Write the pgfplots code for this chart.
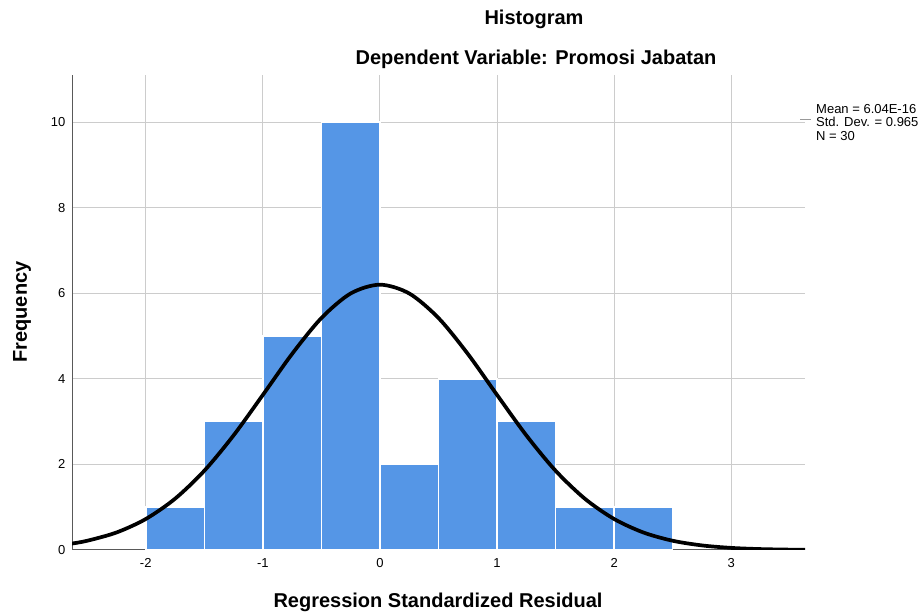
\documentclass[border=0pt]{standalone}
\usepackage{pgfplots}
\pgfplotsset{compat=1.18}
\usepackage{fontspec}
\setmainfont{Liberation Sans}
\definecolor{barblue}{HTML}{5596E6}
\definecolor{gridgray}{HTML}{CCCCCC}
\begin{document}
\begin{tikzpicture}[x=1pt,y=1pt]
\useasboundingbox (0,0) rectangle (922,616);
\begin{axis}[
  at={(72pt,66pt)}, anchor=south west,
  scale only axis, width=733pt, height=475pt,
  xmin=-2.63, xmax=3.63, ymin=0, ymax=11.1,
  axis x line=bottom, axis y line=left,
  axis line style={draw=black!65, line width=1pt, -},
  xtick={-2,-1,0,1,2,3}, ytick={0,2,4,6,8,10},
  xticklabels={-2,-1,0,1,2,3},
  grid=major, major grid style={draw=gridgray, line width=1pt},
  tick style={draw=none},
  ticklabel style={font=\fontsize{13}{15}\selectfont},
  /pgf/number format/assume math mode=true,
  xticklabel style={yshift=-3pt},
  yticklabel style={xshift=-1pt},
  axis on top=false,
  clip=true,
]
\addplot[ybar interval, fill=barblue, draw=white, line width=1.5pt] coordinates {
(-2.0,1) (-1.5,3) (-1.0,5) (-0.5,10) (0.0,2) (0.5,4) (1.0,3) (1.5,1) (2.0,1) (2.5,0)
};
\addplot[black, line width=3.7pt, smooth] coordinates {
(-2.63,0.151) (-2.5,0.216) (-2.25,0.409) (-2.0,0.724) (-1.75,1.198) (-1.5,1.852)
(-1.25,2.679) (-1.0,3.624) (-0.75,4.584) (-0.5,5.421) (-0.25,5.995) (0,6.2)
(0.25,5.995) (0.5,5.421) (0.75,4.584) (1.0,3.624) (1.25,2.679) (1.5,1.852)
(1.75,1.198) (2.0,0.724) (2.25,0.409) (2.5,0.216) (2.75,0.107) (3.0,0.049)
(3.25,0.0214) (3.5,0.0086) (3.63,0.0052)
};
\end{axis}
\node[font=\fontsize{20}{22}\selectfont\bfseries] at (534,597) {Histogram};
\node[font=\fontsize{20}{22}\selectfont\bfseries] at (536,557) {Dependent Variable: Promosi Jabatan};
\node[font=\fontsize{20}{22}\selectfont\bfseries, rotate=90] at (22,304) {Frequency};
\node[font=\fontsize{20}{22}\selectfont\bfseries] at (438,14) {Regression Standardized Residual};
\draw[black!40, line width=1pt] (800,496) -- (811,496);
\node[anchor=north west, inner sep=0pt, align=left, font=\fontsize{13}{13.5}\selectfont] at (816,512) {Mean = 6.04E-16\\Std. Dev. = 0.965\\N = 30};
\end{tikzpicture}
\end{document}
